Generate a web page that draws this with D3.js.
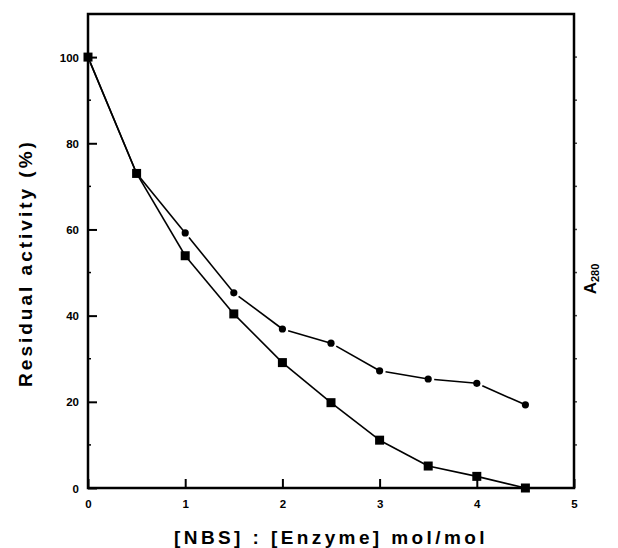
<!DOCTYPE html>
<html>
<head>
<meta charset="utf-8">
<script src="https://cdn.jsdelivr.net/npm/d3@7"></script>
<style>
  html, body { margin: 0; padding: 0; background: #fff; }
  svg { display: block; }
  text { font-family: "Liberation Sans", Arial, sans-serif; font-weight: bold; fill: #000; }
</style>
</head>
<body>
<svg id="chart" width="618" height="548"></svg>
<script>
// ---- data ----
const ratios = [0, 0.5, 1, 1.5, 2, 2.5, 3, 3.5, 4, 4.5];
const circleSeries = [100, 73, 59.2, 45.3, 36.9, 33.6, 27.2, 25.3, 24.3, 19.3];
const squareSeries = [100, 73, 53.9, 40.4, 29.1, 19.8, 11.1, 5.1, 2.7, 0];
const xTicks = [0, 1, 2, 3, 4, 5];
const yTicks = [0, 20, 40, 60, 80, 100];
const yMinorTicks = [10, 30, 50, 70, 90];
const rightTicks = [10, 20, 30, 40, 50, 60, 70, 80, 90, 100];
const xTitle = "[NBS] : [Enzyme] mol/mol";
const yTitle = "Residual activity (%)";

// ---- layout ----
const L = 88, R = 574, T = 14, B = 488;
const svg = d3.select("#chart");
const x = d3.scaleLinear().domain([0, 5]).range([L, R]);
const y = d3.scaleLinear().domain([0, 110]).range([B, T]);

// left axis: major ticks inward, labels left
const leftAxis = d3.axisLeft(y).tickValues(yTicks).tickSizeInner(-9).tickSizeOuter(0).tickPadding(9).tickFormat(d3.format("d"));
const gL = svg.append("g").attr("transform", `translate(${L},0)`).call(leftAxis);
gL.select(".domain").remove();
gL.selectAll(".tick line").attr("stroke", "#000").attr("stroke-width", 2);
gL.selectAll(".tick text").style("font-size", "11.5px").attr("fill", "#000").attr("dy", "0.36em");

// left minor ticks
svg.append("g").selectAll("line").data(yMinorTicks).join("line")
  .attr("x1", L).attr("x2", L + 3).attr("y1", d => y(d)).attr("y2", d => y(d))
  .attr("stroke", "#000").attr("stroke-width", 1.5);

// bottom axis: ticks upward
const bottomAxis = d3.axisBottom(x).tickValues(xTicks).tickSizeInner(-9).tickSizeOuter(0).tickPadding(12).tickFormat(d3.format("d"));
const gB = svg.append("g").attr("transform", `translate(0,${B})`).call(bottomAxis);
gB.select(".domain").remove();
gB.selectAll(".tick line").attr("stroke", "#000").attr("stroke-width", 2);
gB.selectAll(".tick text").style("font-size", "11.5px").attr("fill", "#000");

// right ticks (outward, small)
svg.append("g").selectAll("line").data(rightTicks).join("line")
  .attr("x1", R).attr("x2", R + 3).attr("y1", d => y(d)).attr("y2", d => y(d))
  .attr("stroke", "#444").attr("stroke-width", 1.5);

// frame
svg.append("rect").attr("x", L).attr("y", T).attr("width", R - L).attr("height", B - T)
  .attr("fill", "none").attr("stroke", "#000").attr("stroke-width", 2.5);

// series lines
function drawSeries(vals, gapStart) {
  const pts = ratios.map((r, i) => [x(r), y(vals[i])]);
  const g = svg.append("g");
  for (let i = 0; i < pts.length - 1; i++) {
    const [x0, y0] = pts[i], [x1, y1] = pts[i + 1];
    const dx = x1 - x0, dy = y1 - y0, len = Math.hypot(dx, dy);
    const s = gapStart / len;
    g.append("line")
      .attr("x1", x0 + dx * s).attr("y1", y0 + dy * s)
      .attr("x2", x1).attr("y2", y1)
      .attr("stroke", "#000").attr("stroke-width", 1.6);
  }
  return pts;
}
const sqPts = drawSeries(squareSeries, 0);
const cPts = drawSeries(circleSeries, 6);

svg.append("g").selectAll("rect").data(sqPts).join("rect")
  .attr("x", d => d[0] - 4.5).attr("y", d => d[1] - 4.5)
  .attr("width", 9).attr("height", 9).attr("fill", "#000");
svg.append("g").selectAll("circle").data(cPts).join("circle")
  .attr("cx", d => d[0]).attr("cy", d => d[1]).attr("r", 3.6).attr("fill", "#000");

// titles
svg.append("text").attr("x", (L + R) / 2 + 0).attr("y", 544)
  .attr("text-anchor", "middle").style("font-size", "19px").style("letter-spacing", "3.4px")
  .text(xTitle);

svg.append("text").attr("transform", `translate(32,${263}) rotate(-90)`)
  .attr("text-anchor", "middle").style("font-size", "19px").style("letter-spacing", "3px")
  .text(yTitle);

const a = svg.append("text").attr("transform", `translate(596,${279}) rotate(-90)`)
  .attr("text-anchor", "middle").style("font-size", "17px");
a.append("tspan").text("A");
a.append("tspan").attr("dy", "0.3em").style("font-size", "11px").text("280");
</script>
</body>
</html>
